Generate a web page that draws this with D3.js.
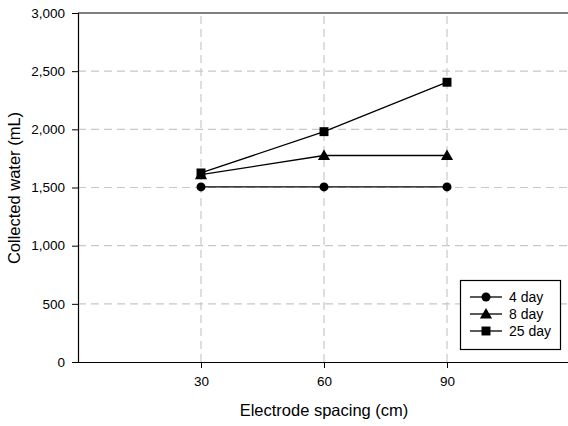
<!DOCTYPE html>
<html><head><meta charset="utf-8">
<script src="https://cdn.jsdelivr.net/npm/d3@7"></script>
<style>body{margin:0;background:#fff}svg{display:block}text{font-family:"Liberation Sans",Arial,sans-serif;fill:#000}</style>
</head><body>
<script>
const spacing = [30, 60, 90];
const seriesNames = ["4 day", "8 day", "25 day"];
const day4 = [1505, 1505, 1505];
const day8 = [1610, 1775, 1775];
const day25 = [1625, 1980, 2405];
const yTicks = [0, 500, 1000, 1500, 2000, 2500, 3000];
const xTicks = [30, 60, 90];

const W = 568, H = 426;
const svg = d3.select("body").append("svg").attr("width", W).attr("height", H);
const x = d3.scaleLinear().domain([0, 120]).range([78, 570]);
const y = d3.scaleLinear().domain([0, 3000]).range([362, 13]);
const grid = "#c8c8c8";

// grid
svg.append("g").selectAll("line").data(yTicks.filter(d => d > 0 && d < 3000)).join("line")
  .attr("x1", x(0)).attr("x2", W).attr("y1", d => y(d)).attr("y2", d => y(d))
  .attr("stroke", grid).attr("stroke-dasharray", "8,5").attr("stroke-width", 1.2);
svg.append("g").selectAll("line").data(xTicks).join("line")
  .attr("x1", d => x(d)).attr("x2", d => x(d)).attr("y1", y(0)).attr("y2", y(3000))
  .attr("stroke", grid).attr("stroke-dasharray", "8,5").attr("stroke-width", 1.2);

// top border
svg.append("line").attr("x1", x(0)).attr("x2", W).attr("y1", y(3000)).attr("y2", y(3000)).attr("stroke", "#000").attr("stroke-width", 1.2);

// axes
const yAxis = svg.append("g").attr("transform", `translate(${x(0)},0)`)
  .call(d3.axisLeft(y).tickValues(yTicks).tickSize(6).tickPadding(7).tickFormat(d3.format(",")));
const xAxis = svg.append("g").attr("transform", `translate(0,${y(0)})`)
  .call(d3.axisBottom(x).tickValues(xTicks).tickSize(6).tickPadding(8));
[yAxis, xAxis].forEach(a => {
  a.attr("font-size", null).attr("font-family", null);
  a.select(".domain").attr("stroke", "#000").attr("stroke-width", 1.2);
  a.selectAll(".tick line").attr("stroke", "#000");
  a.selectAll("text").style("font-size", "13.5px");
});
xAxis.select(".domain").attr("d", `M${x(0)},0.5H${W}`);

// lines
const data = [day4, day8, day25];
const line = d3.line().x((d, i) => x(spacing[i])).y(d => y(d));
data.forEach(s => {
  svg.append("path").datum(s).attr("d", line).attr("fill", "none").attr("stroke", "#000").attr("stroke-width", 1.3);
});
const symbols = [d3.symbolCircle, d3.symbolTriangle, d3.symbolSquare];
const sizes = [64, 64, 80];
data.forEach((s, k) => {
  svg.append("g").selectAll("path").data(s).join("path")
    .attr("transform", (d, i) => `translate(${x(spacing[i])},${y(d) + (k === 1 ? 1 : 0)})`)
    .attr("d", d3.symbol().type(symbols[k]).size(sizes[k])).attr("fill", "#000");
});

// legend
const lg = svg.append("g");
lg.append("rect").attr("x", 460.5).attr("y", 280.5).attr("width", 100).attr("height", 69)
  .attr("fill", "#fff").attr("stroke", "#000").attr("stroke-width", 1.2);
seriesNames.forEach((n, k) => {
  const yy = 297 + k * 17;
  lg.append("line").attr("x1", 470).attr("x2", 502).attr("y1", yy).attr("y2", yy).attr("stroke", "#000").attr("stroke-width", 1.3);
  lg.append("path").attr("transform", `translate(486,${yy + (k === 1 ? 1 : 0)})`).attr("d", d3.symbol().type(symbols[k]).size(sizes[k])).attr("fill", "#000");
  lg.append("text").attr("x", 509).attr("y", yy + 5).style("font-size", "14px").text(n);
});

// titles
svg.append("text").attr("x", 324).attr("y", 416).attr("text-anchor", "middle").style("font-size", "16.5px").text("Electrode spacing (cm)");
svg.append("text").attr("transform", "translate(20,188) rotate(-90)").attr("text-anchor", "middle").style("font-size", "16.5px").text("Collected water (mL)");
</script>
</body></html>
